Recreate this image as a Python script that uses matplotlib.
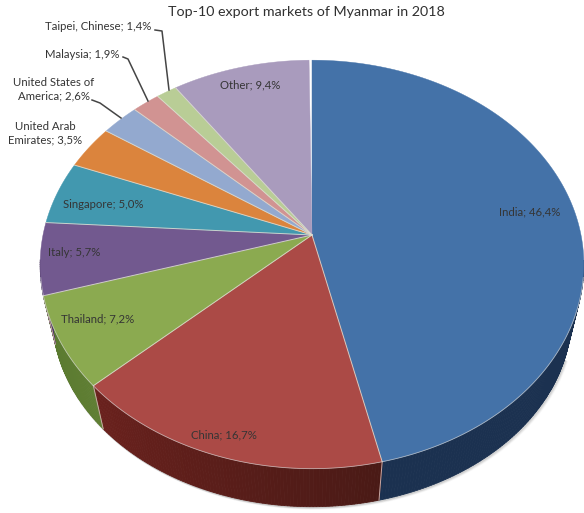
import numpy as np
import matplotlib
matplotlib.use("Agg")
import matplotlib.pyplot as plt
from matplotlib.colors import to_rgb

plt.rcParams['font.family'] = ['Lato', 'DejaVu Sans']

markets = ["India", "China", "Thailand", "Italy", "Singapore",
           "United Arab Emirates", "United States of America",
           "Malaysia", "Taipei, Chinese", "Other"]
shares = [46.4, 16.7, 7.2, 5.7, 5.0, 3.5, 2.6, 1.9, 1.4, 9.4]
colors = ["#4472A8", "#AB4A46", "#8BAA50", "#72598F", "#4298AF",
          "#DB843D", "#93A9CF", "#D19392", "#B9CD96", "#A99BBD"]
side_a = ["#1B3150", "#4A1A16", "#5F7E33", "#4c3a62", "#2b6878",
          "#95581f", "#5f7190", "#8f5f5e", "#7d8c63", "#6e6480"]
side_b = ["#1B3150", "#6A211D", "#5A7A30", "#4c3a62", "#2b6878",
          "#95581f", "#5f7190", "#8f5f5e", "#7d8c63", "#6e6480"]
title = "Top-10 export markets of Myanmar in 2018"

label_text = ["India; 46,4%", "China; 16,7%", "Thailand; 7,2%", "Italy; 5,7%",
              "Singapore; 5,0%", "United Arab\nEmirates; 3,5%",
              "United States of\nAmerica; 2,6%", "Malaysia; 1,9%",
              "Taipei, Chinese; 1,4%", "Other; 9,4%"]
label_x = [530, 223.5, 97.5, 74, 103.5, 45, 54, 82, 98.5, 250.5]
label_y = [212, 435, 319, 253, 204, 133.5, 89.5, 55, 27, 85]
leader_x = [[155, 162, 169], [123, 128, 148], [92, 100, 121]]
leader_y = [[30, 31, 90], [57, 59, 101], [100, 103, 118]]

# projection of the tilted disc into pixel coordinates
CX, CY = 312.0, 235.0
P, A, B = 0.144, 200.0, 269.0
S, Y_TOP, Y_LOW, SY = 0.955, 264.5, 315.0, 0.939


def top_rim(theta):
    u, v = np.sin(theta), np.cos(theta)
    w = 1 + P * v
    return CX + B * u / w, CY - A * v / w


def low_rim(theta):
    x, y = top_rim(theta)
    return CX + S * (x - CX), Y_LOW + SY * (y - Y_TOP)


fig = plt.figure(figsize=(5.84, 5.13), dpi=100, facecolor="white")
ax = fig.add_axes([0, 0, 1, 1])
ax.set_xlim(0, 584)
ax.set_ylim(513, 0)
ax.axis("off")

cum = np.cumsum([0] + shares) / 100 * 2 * np.pi
arcs = [np.linspace(cum[i], cum[i + 1], max(int(shares[i] * 6), 8))
        for i in range(len(shares))]

# soft shadow under the outer wall
full = np.linspace(np.pi * 0.62, np.pi * 1.38, 200)
lx, ly = low_rim(full)
for k, al in zip([4, 3, 2, 1], [0.04, 0.07, 0.10, 0.15]):
    ax.plot(lx + k * 0.6, ly + k * 0.5, color="#555555", alpha=al, lw=1.5, zorder=1)

# outer wall: only the front part of the disc is drawn
for i, arc in enumerate(arcs):
    ca, cb = np.array(to_rgb(side_a[i])), np.array(to_rgb(side_b[i]))
    for j in range(len(arc) - 1):
        t = j / max(len(arc) - 2, 1)
        col = ca + (cb - ca) * t
        seg = arc[j:j + 2]
        if np.cos(seg).max() > -0.12:
            continue
        x1, y1 = top_rim(seg)
        x2, y2 = low_rim(seg[::-1])
        ax.fill(np.r_[x1, x2], np.r_[y1, y2], facecolor=col, edgecolor=col,
                lw=0.6, zorder=2)
for i, arc in enumerate(arcs):
    sx1, sy1 = top_rim(arc[0])
    sx2, sy2 = low_rim(arc[0])
    if np.cos(arc[0]) < -0.25:
        ax.plot([sx1, sx2], [sy1, sy2], color="#C9A9A5", lw=0.7, zorder=3)

# top faces
for i, arc in enumerate(arcs):
    x, y = top_rim(arc)
    ax.fill(np.r_[CX, x], np.r_[CY, y], facecolor=colors[i],
            edgecolor=colors[i], lw=0.3, zorder=4)
for i, arc in enumerate(arcs):
    if i > 0:
        x, y = top_rim(arc[0])
        ax.plot([CX, x], [CY, y], color="#DDDDD2", lw=0.7, alpha=0.85, zorder=5)
    # pale rim only on the front of the disc
    front = arc[np.cos(arc) < -0.2]
    if len(front) > 1:
        fx, fy = top_rim(front)
        ax.plot(fx, fy, color="#D8D8D8", lw=0.6, alpha=0.7, zorder=5)

# leader lines
for xs, ys in zip(leader_x, leader_y):
    ax.plot(xs, ys, color="#454545", lw=1.1, zorder=5)

ax.text(306, 11.5, title, ha="center", va="center", fontsize=10.3, color="#303030", zorder=6)
for t, x, y in zip(label_text, label_x, label_y):
    ax.text(x, y, t, ha="center", va="center", fontsize=8.2, color="#353535",
            linespacing=1.3, zorder=6)

fig.savefig("out.png", dpi=100, facecolor="white")
